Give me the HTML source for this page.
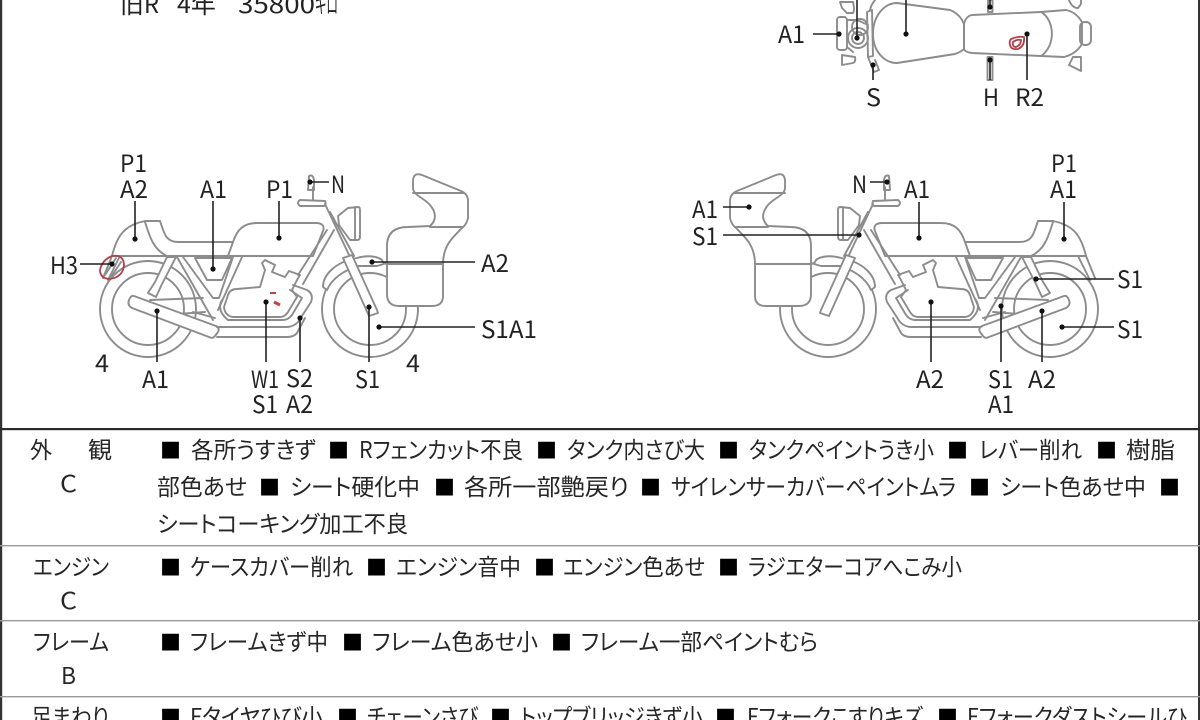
<!DOCTYPE html>
<html lang="ja"><head><meta charset="utf-8"><title>車両状態</title>
<style>
html,body{margin:0;padding:0;background:#fff;width:1200px;height:720px;overflow:hidden}
svg{display:block;filter:blur(.35px)}
.b{fill:none;stroke:#8c8c8c;stroke-width:1.9;stroke-linejoin:round;stroke-linecap:round}
.w{fill:#fff}
.l{stroke:#222;stroke-width:1.6;fill:none}
.d{fill:#111}
.r{fill:none;stroke:#b5404a;stroke-width:1.8}
text{font-family:"Noto Sans CJK JP","Liberation Sans",sans-serif;fill:#222;font-size:24px;font-feature-settings:"palt";}
.t{font-size:23px;fill:#262626}
.s{fill:#000;font-size:21px}
</style></head><body>
<svg width="1200" height="720" viewBox="0 0 1200 720" xmlns="http://www.w3.org/2000/svg">
<defs>
<g id="bike">
<circle class="b" cx="148" cy="309" r="48"/><circle class="b" cx="148" cy="309" r="36"/>
<circle class="b" cx="370" cy="309" r="48"/><circle class="b" cx="370" cy="309" r="36"/>
<path class="b w" d="M112 256C117 235 125 225 145 221L160 221C164 232 165 242 178 242L233 242C237 230 243 223 257 223L316 223C322 223 325 226 323 231L313 256Z"/>
<path class="b" d="M145 222C150 238 154 250 167 256M233 242L228 256M112 256L103 278M120 256L108 280"/>
<path class="b w" d="M167 257L155 282L148 293L156 297L162 284L176 257Z"/>
<path class="b" d="M183 257L213 298L219 298L233 257M177 257L213 320M242 257L218 310"/>
<path class="b" d="M195 258L232 258L222 280L207 280Z"/>
<path class="b" d="M150 300L203 298M193 312L215 318M165 315L205 312"/>
<path class="b w" d="M134 296L216 326Q220 328 218 332L215 336Q213 339 209 337L132 308Q127 305 129 300Q131 295 134 296Z"/>
<path class="b" d="M217 327L287 327Q293 327 298 322L311 302Q314 294 307 290L293 285M217 337L287 337Q294 337 297 333L305 318"/>
<path class="b" d="M222 300Q216 310 228 320L283 320Q288 320 292 315L302 298L290 290"/>
<path class="b" d="M262 263L265 260L275 265L272 272L285 277L289 271L300 275L297 280L292 290L297 297L288 312Q285 317 280 317L233 317Q225 316 224 307L228 295Q230 289 237 289L260 287L265 270Z"/>
<path class="b" d="M334 230L303 284M327 230L298 275"/>
<path class="b w" d="M300 200L325 201Q327 206 323 206L300 206Q296 203 300 200Z"/>
<path class="b" d="M313 200L313 187M309 176Q313 174 314 180L314 190L308 190Z"/>
<path class="b" d="M325 204L350 257M330 212L354 256"/>
<path class="b w" d="M338 216L348 208L358 207Q360 207 360 210L360 237Q360 240 357 240L350 240L339 225Z"/>
<path class="b" d="M355 207L355 240"/>
<path class="b w" d="M323 287C323 275 335 262 357 258C367 255 377 256 382 260L384 264L377 266L358 266C345 270 332 278 327 290Z"/>
<path class="b w" d="M343 258L352 255L377 310L378 313L369 316Z"/>
</g>
<g id="bag">
<path class="b w" d="M413 180Q414 172 422 175L461 191Q468 194 468 201L468 218Q467 224 462 228C452 238 444 245 443 262L443 296Q443 306 432 306L399 306Q387 306 387 294L387 246Q387 227 408 227L430 226C437 220 436 212 430 205C424 198 413 195 413 188Z"/>
<path class="b" d="M413 193L464 193M430 227L463 227M387 264L443 264"/>
</g>
</defs>

<!-- frame -->
<rect x="0" y="0" width="2.2" height="720" fill="#333"/>
<rect x="1198" y="0" width="2" height="720" fill="#333"/>
<rect x="0" y="428" width="1200" height="2.2" fill="#2a2a2a"/>
<rect x="0" y="545" width="1200" height="1.4" fill="#999"/>
<rect x="0" y="620" width="1200" height="1.4" fill="#999"/>
<rect x="0" y="696" width="1200" height="1.4" fill="#999"/>

<text x="120" y="13" textLength="39" lengthAdjust="spacingAndGlyphs">旧R</text>
<text x="177" y="13" textLength="39" lengthAdjust="spacingAndGlyphs">4年</text>
<text x="238" y="13" textLength="77" lengthAdjust="spacingAndGlyphs">35800</text>
<text x="315" y="13" textLength="23" lengthAdjust="spacingAndGlyphs">キロ</text>

<!-- left bike -->
<use href="#bike"/><use href="#bag"/>
<!-- right bike -->
<g transform="translate(1198,0) scale(-1,1)"><use href="#bike"/><use href="#bag"/></g>

<!-- top view -->
<g>
<path class="b" d="M840 2L853 2Q855 10 853 13L847 13L842 8ZM842 55L855 57Q856 62 853 63L842 65Z"/>
<rect class="b" x="837" y="17" width="10" height="33" rx="3"/>
<path class="b" d="M847 20L857 20L866 24M847 47L853 52"/>
<circle class="b" cx="858" cy="38" r="10"/><circle class="b" cx="858" cy="38" r="6"/>
<circle class="b" cx="860" cy="27" r="8"/>
<path class="b" d="M867 12L872 10L873 56L868 57ZM870 10Q871 5 875 0M868 57L874 72L879 70L875 60"/>
<path class="b" d="M873 34C873 15 885 3 897 3L950 10Q960 14 964 24L964 49Q961 52 955 54L897 63C885 63 873 52 873 34Z"/>
<path class="b" d="M964 24Q966 16 972 15L1041 12L1066 10Q1076 12 1082 22L1082 44Q1076 54 1064 57L1041 56L972 53Q964 52 964 48Z"/>
<path class="b" d="M1041 12C1055 20 1056 46 1041 56"/>
<rect class="b" x="1080" y="22" width="11" height="23" rx="5"/>
<path class="b" d="M1069 0Q1072 8 1078 8L1081 4L1081 0M1073 57L1069 65L1081 71L1081 57Z"/>
<rect class="b" x="988" y="0" width="4.5" height="12"/>
<rect class="b" x="987.5" y="57" width="5" height="23"/>
</g>
<path class="r" d="M1011 39Q1018 36 1024 37Q1025 46 1018 49Q1011 50 1010 45Q1009 41 1011 39ZM1013 42Q1017 39 1021 40Q1021 45 1016 47Q1012 47 1013 42Z" stroke-width="1.4"/>

<!-- red marks -->
<path class="r" d="M112 256Q124 254 124 266Q122 278 109 279Q100 278 100 270Q102 260 112 256Z"/>
<path class="b" d="M116 258L105 275M121 262L111 277"/>
<path d="M270 293L276 293" stroke="#c2414b" stroke-width="2"/>
<path d="M274 302L280 305" stroke="#c2414b" stroke-width="3"/>

<!-- leaders -->
<g class="l">
<path d="M135 201V239M213 201V269M279 201V238M80 264H112M157 311V362M266 302V362M300 318V362M369 307V362M379 327H475M372 262H475M310 182H329"/>
<path d="M870 182H887M919 202V238M723 207H749M723 235H859M931 302V362M1064 202V239M1036 279H1114M1062 327H1114M1001 306V362M1042 311V362"/>
<path d="M813 34H839M857 0V38M906 0V34M873 65V80M990 60V80M990 0V7M1027 34V80"/>
</g>
<g class="d">
<circle cx="135" cy="239" r="2.6"/><circle cx="213" cy="269" r="2.6"/><circle cx="279" cy="238" r="2.6"/><circle cx="112" cy="264" r="2.6"/><circle cx="157" cy="311" r="2.6"/><circle cx="266" cy="302" r="2.6"/><circle cx="300" cy="318" r="2.6"/><circle cx="369" cy="307" r="2.6"/><circle cx="379" cy="327" r="2.6"/><circle cx="372" cy="262" r="2.6"/><circle cx="310" cy="182" r="2.6"/>
<circle cx="887" cy="182" r="2.6"/><circle cx="919" cy="238" r="2.6"/><circle cx="749" cy="207" r="2.6"/><circle cx="859" cy="235" r="2.6"/><circle cx="931" cy="302" r="2.6"/><circle cx="1064" cy="239" r="2.6"/><circle cx="1036" cy="279" r="2.6"/><circle cx="1062" cy="327" r="2.6"/><circle cx="1001" cy="306" r="2.6"/><circle cx="1042" cy="311" r="2.6"/>
<circle cx="839" cy="34" r="2.6"/><circle cx="857" cy="38" r="2.6"/><circle cx="906" cy="34" r="2.6"/><circle cx="873" cy="65" r="2.6"/><circle cx="990" cy="60" r="2.6"/><circle cx="990" cy="7" r="2.6"/><circle cx="1027" cy="34" r="2.6"/>
</g>

<!-- labels -->
<g>
<text x="120" y="172" textLength="27" lengthAdjust="spacingAndGlyphs">P1</text>
<text x="120" y="198" textLength="28" lengthAdjust="spacingAndGlyphs">A2</text>
<text x="200" y="198" textLength="27" lengthAdjust="spacingAndGlyphs">A1</text>
<text x="266" y="198" textLength="27" lengthAdjust="spacingAndGlyphs">P1</text>
<text x="50" y="274" textLength="28" lengthAdjust="spacingAndGlyphs">H3</text>
<text x="95" y="372" textLength="14" lengthAdjust="spacingAndGlyphs">4</text>
<text x="142" y="388" textLength="27" lengthAdjust="spacingAndGlyphs">A1</text>
<text x="251" y="388" textLength="28" lengthAdjust="spacingAndGlyphs">W1</text>
<text x="252" y="413" textLength="26" lengthAdjust="spacingAndGlyphs">S1</text>
<text x="286" y="387" textLength="27" lengthAdjust="spacingAndGlyphs">S2</text>
<text x="286" y="413" textLength="27" lengthAdjust="spacingAndGlyphs">A2</text>
<text x="355" y="388" textLength="25" lengthAdjust="spacingAndGlyphs">S1</text>
<text x="406" y="372" textLength="14" lengthAdjust="spacingAndGlyphs">4</text>
<text x="331" y="193" textLength="14" lengthAdjust="spacingAndGlyphs">N</text>
<text x="481" y="272" textLength="28" lengthAdjust="spacingAndGlyphs">A2</text>
<text x="481" y="338" textLength="56" lengthAdjust="spacingAndGlyphs">S1A1</text>

<text x="852" y="193" textLength="15" lengthAdjust="spacingAndGlyphs">N</text>
<text x="904" y="198" textLength="26" lengthAdjust="spacingAndGlyphs">A1</text>
<text x="692" y="218" textLength="26" lengthAdjust="spacingAndGlyphs">A1</text>
<text x="692" y="245" textLength="26" lengthAdjust="spacingAndGlyphs">S1</text>
<text x="916" y="388" textLength="28" lengthAdjust="spacingAndGlyphs">A2</text>
<text x="1051" y="172" textLength="26" lengthAdjust="spacingAndGlyphs">P1</text>
<text x="1050" y="198" textLength="27" lengthAdjust="spacingAndGlyphs">A1</text>
<text x="1117" y="288" textLength="26" lengthAdjust="spacingAndGlyphs">S1</text>
<text x="1117" y="338" textLength="26" lengthAdjust="spacingAndGlyphs">S1</text>
<text x="988" y="388" textLength="25" lengthAdjust="spacingAndGlyphs">S1</text>
<text x="988" y="413" textLength="26" lengthAdjust="spacingAndGlyphs">A1</text>
<text x="1028" y="388" textLength="28" lengthAdjust="spacingAndGlyphs">A2</text>

<text x="778" y="43" textLength="27" lengthAdjust="spacingAndGlyphs">A1</text>
<text x="866" y="106" textLength="15" lengthAdjust="spacingAndGlyphs">S</text>
<text x="983" y="106" textLength="16" lengthAdjust="spacingAndGlyphs">H</text>
<text x="1015" y="106" textLength="29" lengthAdjust="spacingAndGlyphs">R2</text>
</g>

<!-- table text -->
<g class="tb">
<text class="t" x="30" y="458" textLength="22" lengthAdjust="spacingAndGlyphs">外</text>
<text class="t" x="88" y="458" textLength="24" lengthAdjust="spacingAndGlyphs">観</text>
<text class="t" x="60" y="492" textLength="17" lengthAdjust="spacingAndGlyphs">C</text>
<text class="s" x="160" y="458">■</text>
<text class="t" x="191" y="458" textLength="125" lengthAdjust="spacingAndGlyphs">各所うすきず</text>
<text class="s" x="328" y="458">■</text>
<text class="t" x="359" y="458" textLength="164" lengthAdjust="spacingAndGlyphs">Rフェンカット不良</text>
<text class="s" x="536" y="458">■</text>
<text class="t" x="567" y="458" textLength="138" lengthAdjust="spacingAndGlyphs">タンク内さび大</text>
<text class="s" x="718" y="458">■</text>
<text class="t" x="749" y="458" textLength="185" lengthAdjust="spacingAndGlyphs">タンクペイントうき小</text>
<text class="s" x="947" y="458">■</text>
<text class="t" x="979" y="458" textLength="103" lengthAdjust="spacingAndGlyphs">レバー削れ</text>
<text class="s" x="1096" y="458">■</text>
<text class="t" x="1126" y="458" textLength="49" lengthAdjust="spacingAndGlyphs">樹脂</text>

<text class="t" x="157" y="495" textLength="90" lengthAdjust="spacingAndGlyphs">部色あせ</text>
<text class="s" x="259" y="495">■</text>
<text class="t" x="290" y="495" textLength="130" lengthAdjust="spacingAndGlyphs">シート硬化中</text>
<text class="s" x="434" y="495">■</text>
<text class="t" x="464" y="495" textLength="165" lengthAdjust="spacingAndGlyphs">各所一部艶戻り</text>
<text class="s" x="640" y="495">■</text>
<text class="t" x="671" y="495" textLength="285" lengthAdjust="spacingAndGlyphs">サイレンサーカバーペイントムラ</text>
<text class="s" x="969" y="495">■</text>
<text class="t" x="1000" y="495" textLength="146" lengthAdjust="spacingAndGlyphs">シート色あせ中</text>
<text class="s" x="1159" y="495">■</text>
<text class="t" x="157" y="532" textLength="251" lengthAdjust="spacingAndGlyphs">シートコーキング加工不良</text>

<text class="t" x="33" y="575" textLength="76" lengthAdjust="spacingAndGlyphs">エンジン</text>
<text class="t" x="60" y="609" textLength="17" lengthAdjust="spacingAndGlyphs">C</text>
<text class="s" x="160" y="575">■</text>
<text class="t" x="190" y="575" textLength="163" lengthAdjust="spacingAndGlyphs">ケースカバー削れ</text>
<text class="s" x="366" y="575">■</text>
<text class="t" x="396" y="575" textLength="125" lengthAdjust="spacingAndGlyphs">エンジン音中</text>
<text class="s" x="534" y="575">■</text>
<text class="t" x="563" y="575" textLength="142" lengthAdjust="spacingAndGlyphs">エンジン色あせ</text>
<text class="s" x="718" y="575">■</text>
<text class="t" x="748" y="575" textLength="214" lengthAdjust="spacingAndGlyphs">ラジエターコアへこみ小</text>

<text class="t" x="33" y="650" textLength="76" lengthAdjust="spacingAndGlyphs">フレーム</text>
<text class="t" x="61" y="684" textLength="15" lengthAdjust="spacingAndGlyphs">B</text>
<text class="s" x="160" y="650">■</text>
<text class="t" x="190" y="650" textLength="138" lengthAdjust="spacingAndGlyphs">フレームきず中</text>
<text class="s" x="342" y="650">■</text>
<text class="t" x="372" y="650" textLength="166" lengthAdjust="spacingAndGlyphs">フレーム色あせ小</text>
<text class="s" x="551" y="650">■</text>
<text class="t" x="581" y="650" textLength="237" lengthAdjust="spacingAndGlyphs">フレーム一部ペイントむら</text>

<text class="t" x="31" y="725" textLength="78" lengthAdjust="spacingAndGlyphs">足まわり</text>
<text class="s" x="160" y="725">■</text>
<text class="t" x="190" y="725" textLength="133" lengthAdjust="spacingAndGlyphs">Fタイヤひび小</text>
<text class="s" x="337" y="725">■</text>
<text class="t" x="367" y="725" textLength="111" lengthAdjust="spacingAndGlyphs">チェーンさび</text>
<text class="s" x="490" y="725">■</text>
<text class="t" x="520" y="725" textLength="183" lengthAdjust="spacingAndGlyphs">トップブリッジきず小</text>
<text class="s" x="715" y="725">■</text>
<text class="t" x="747" y="725" textLength="176" lengthAdjust="spacingAndGlyphs">Fフォークこすりキズ</text>
<text class="s" x="937" y="725">■</text>
<text class="t" x="967" y="725" textLength="220" lengthAdjust="spacingAndGlyphs">Fフォークダストシールひ</text>
</g>
</svg>
</body></html>
